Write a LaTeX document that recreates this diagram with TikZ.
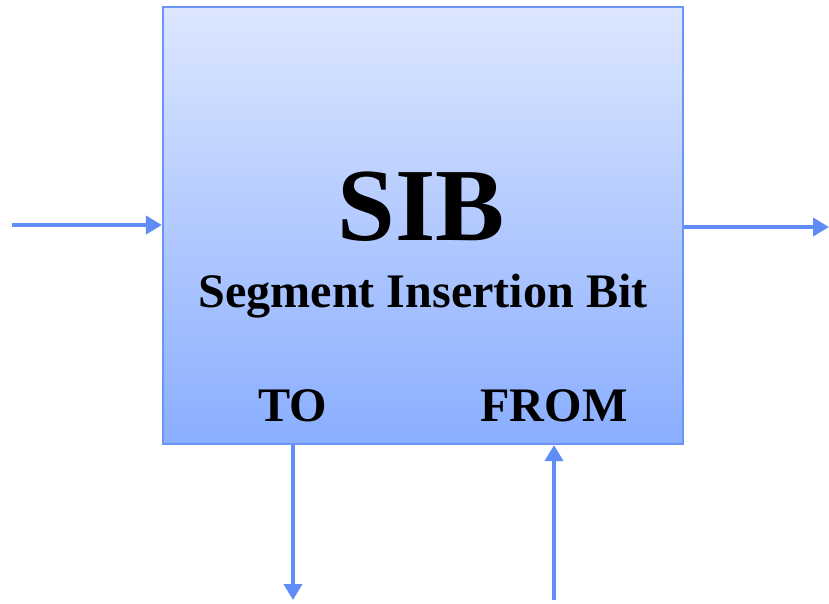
\documentclass[tikz,border=0pt]{standalone}
\usepackage{fontspec}
\setmainfont{Liberation Serif}
\usetikzlibrary{arrows.meta,shadows}

\definecolor{boxtop}{HTML}{DCE6FF}
\definecolor{boxbot}{HTML}{8AAEFF}
\definecolor{boxline}{HTML}{6A94F5}
\definecolor{wire}{HTML}{5F8CF5}

\begin{document}
\begin{tikzpicture}[x=0.02cm,y=-0.02cm,
    wire/.style={draw=wire,line width=2.8pt,-{Triangle[length=0.32cm,width=0.36cm]}},
    label/.style={font=\bfseries\fontsize{27.4}{30}\selectfont,anchor=base}]

\useasboundingbox (0,0) rectangle (829,603);

\node (sib) at (423,225.5) [draw=boxline,line width=1.3pt,
    top color=boxtop,bottom color=boxbot,
    minimum width=10.4cm,minimum height=8.74cm,inner sep=0pt,
    drop shadow={opacity=0.25,shadow xshift=0.6pt,shadow yshift=-0.8pt}] {};

\node (title) at (421,240) [anchor=base,font=\bfseries\fontsize{59}{62}\selectfont] {SIB};
\node (name) at (423,307) [label] {Segment Insertion Bit};
\node (to) at (293,421) [label] {TO};
\node (from) at (554,421) [label] {FROM};

\coordinate (in) at (12,225);
\coordinate (out) at (829,227);
\coordinate (toend) at (293,600);
\coordinate (fromstart) at (554,600);

\path [wire]
    (in) -- (sib.west |- in);
\path [wire]
    (sib.east |- out) -- (out);
\path [wire]
    (sib.south -| toend) -- (toend);
\path [wire]
    (fromstart) -- (sib.south -| fromstart);

\end{tikzpicture}
\end{document}
